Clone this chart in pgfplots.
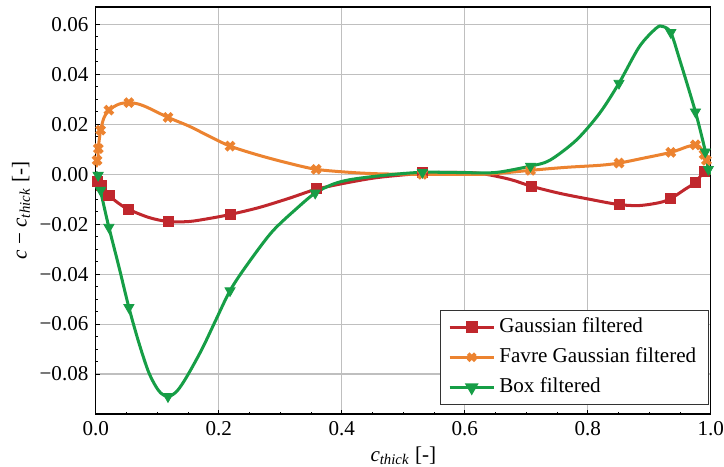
\documentclass[border=0pt]{standalone}
\usepackage{fontspec}
\setmainfont{Liberation Serif}
\usepackage{pgfplots}
\pgfplotsset{compat=1.18}

\definecolor{cred}{RGB}{192,39,45}
\definecolor{corange}{RGB}{236,131,48}
\definecolor{cgreen}{RGB}{22,158,70}

\pgfdeclareplotmark{Xfill}{%
  \pgftransformrotate{45}%
  \pgfpathmoveto{\pgfqpoint{0.36\pgfplotmarksize}{\pgfplotmarksize}}%
  \pgfpathlineto{\pgfqpoint{0.36\pgfplotmarksize}{0.36\pgfplotmarksize}}%
  \pgfpathlineto{\pgfqpoint{\pgfplotmarksize}{0.36\pgfplotmarksize}}%
  \pgfpathlineto{\pgfqpoint{\pgfplotmarksize}{-0.36\pgfplotmarksize}}%
  \pgfpathlineto{\pgfqpoint{0.36\pgfplotmarksize}{-0.36\pgfplotmarksize}}%
  \pgfpathlineto{\pgfqpoint{0.36\pgfplotmarksize}{-\pgfplotmarksize}}%
  \pgfpathlineto{\pgfqpoint{-0.36\pgfplotmarksize}{-\pgfplotmarksize}}%
  \pgfpathlineto{\pgfqpoint{-0.36\pgfplotmarksize}{-0.36\pgfplotmarksize}}%
  \pgfpathlineto{\pgfqpoint{-\pgfplotmarksize}{-0.36\pgfplotmarksize}}%
  \pgfpathlineto{\pgfqpoint{-\pgfplotmarksize}{0.36\pgfplotmarksize}}%
  \pgfpathlineto{\pgfqpoint{-0.36\pgfplotmarksize}{0.36\pgfplotmarksize}}%
  \pgfpathlineto{\pgfqpoint{-0.36\pgfplotmarksize}{\pgfplotmarksize}}%
  \pgfpathclose
  \pgfusepathqfill
}

\pgfplotstableread{
x y
0.0000 -0.0008
0.0024 -0.0028
0.0077 -0.0044
0.0212 -0.0084
0.0375 -0.0117
0.0537 -0.0141
0.0863 -0.0173
0.1173 -0.0189
0.1515 -0.0189
0.1840 -0.0177
0.2182 -0.0161
0.2655 -0.0133
0.3143 -0.0096
0.3583 -0.0060
0.4120 -0.0032
0.4610 -0.0012
0.5310 0.0004
0.5750 0.0008
0.6240 0.0004
0.6730 -0.0020
0.7085 -0.0048
0.7540 -0.0076
0.8030 -0.0100
0.8500 -0.0121
0.8840 -0.0125
0.9170 -0.0113
0.9350 -0.0097
0.9580 -0.0060
0.9750 -0.0032
0.9890 0.0012
0.9950 0.0024
1.0000 0.0008
}\gaussline

\pgfplotstableread{
x y
0.0030 -0.0028
0.0095 -0.0045
0.0212 -0.0084
0.0537 -0.0141
0.1173 -0.0189
0.2182 -0.0161
0.3583 -0.0058
0.5310 0.0006
0.7085 -0.0048
0.8507 -0.0121
0.9350 -0.0098
0.9750 -0.0031
0.9890 0.0012
}\gaussmarks

\pgfplotstableread{
x y
0.0000 0.0030
0.0016 0.0036
0.0037 0.0056
0.0040 0.0105
0.0065 0.0157
0.0077 0.0177
0.0130 0.0225
0.0212 0.0257
0.0375 0.0281
0.0537 0.0287
0.0700 0.0281
0.0863 0.0265
0.1173 0.0228
0.1515 0.0193
0.1840 0.0153
0.2182 0.0113
0.2655 0.0076
0.3143 0.0044
0.3583 0.0020
0.4120 0.0008
0.4610 0.0002
0.5310 0.0000
0.6240 0.0000
0.6560 0.0004
0.7068 0.0016
0.7650 0.0028
0.8190 0.0036
0.8507 0.0045
0.8890 0.0064
0.9350 0.0088
0.9610 0.0110
0.9750 0.0118
0.9820 0.0110
0.9890 0.0080
0.9930 0.0056
0.9970 0.0016
1.0000 0.0000
}\favreline

\pgfplotstableread{
x y
0.0020 0.0056
0.0040 0.0103
0.0077 0.0177
0.0212 0.0257
0.0537 0.0287
0.1173 0.0228
0.2182 0.0113
0.3583 0.0020
0.5310 0.0000
0.7068 0.0016
0.8507 0.0045
0.9350 0.0088
0.9750 0.0118
0.9890 0.0080
0.9930 0.0056
}\favremarks

\pgfplotstableread{
x y
0.0000 0.0008
0.0037 -0.0004
0.0077 -0.0064
0.0130 -0.0125
0.0212 -0.0212
0.0375 -0.0370
0.0537 -0.0533
0.0700 -0.0675
0.0863 -0.0795
0.1026 -0.0868
0.1173 -0.0890
0.1320 -0.0868
0.1480 -0.0810
0.1726 -0.0700
0.1954 -0.0582
0.2182 -0.0466
0.2443 -0.0368
0.2866 -0.0230
0.3306 -0.0128
0.3567 -0.0075
0.3850 -0.0040
0.4120 -0.0022
0.4610 -0.0006
0.5310 0.0008
0.6240 0.0006
0.6560 0.0009
0.7068 0.0033
0.7380 0.0056
0.7813 0.0137
0.8190 0.0244
0.8507 0.0365
0.8840 0.0512
0.9115 0.0586
0.9218 0.0592
0.9349 0.0568
0.9495 0.0458
0.9750 0.0250
0.9913 0.0090
0.9950 0.0036
1.0000 0.0000
}\boxline

\pgfplotstableread{
x y
0.0037 -0.0004
0.0077 -0.0064
0.0212 -0.0212
0.0537 -0.0533
0.1173 -0.0890
0.2182 -0.0466
0.3567 -0.0075
0.5310 0.0008
0.7068 0.0033
0.8507 0.0365
0.9349 0.0568
0.9750 0.0250
0.9910 0.0090
0.9960 0.0020
}\boxmarks

\begin{document}
\fontsize{10.5}{12}\selectfont
\begin{tikzpicture}
\begin{axis}[
  scale only axis,
  width=306pt, height=202.5pt,
  xmin=0, xmax=1, ymin=-0.096, ymax=0.067,
  scaled x ticks=false, scaled y ticks=false,
  xtick={0,0.2,0.4,0.6,0.8,1},
  xticklabels={0.0,0.2,0.4,0.6,0.8,1.0},
  ytick={-0.08,-0.06,-0.04,-0.02,0,0.02,0.04,0.06},
  yticklabels={−0.08,−0.06,−0.04,−0.02,0.00,0.02,0.04,0.06},
  xticklabel style={inner xsep=0pt},
  minor x tick num=3, minor y tick num=3,
  tick align=inside,
  xtick pos=bottom, ytick pos=left,
  major tick length=2pt, minor tick length=1.1pt,
  tick style={black, line width=0.5pt},
  grid=major,
  major grid style={black!25, line width=0.6pt},
  axis line style={line width=0.6pt},
  xlabel={\textit{c}\textsubscript{\textit{thick}} [-]},
  ylabel={\textit{c}\hspace{0.25em}−\hspace{0.25em}\textit{c}\textsubscript{\textit{thick}} [-]},
  xlabel style={inner ysep=1pt, yshift=-0.8pt},
  ylabel style={inner ysep=1pt},
  legend cell align=left,
  legend style={at={(1,0)}, anchor=south east, xshift=-1pt, yshift=4.5pt,
    draw=black!80, line width=0.5pt, fill=white,
    inner xsep=4pt, inner ysep=2pt, row sep=2pt,
    nodes={inner xsep=2pt, inner ysep=1.5pt, text height=7.5pt, text depth=2.5pt},
    font=\fontsize{10.5}{12}\selectfont},
  legend image code/.code={%
    \draw[mark repeat=2, mark phase=2] plot coordinates {(0pt,0pt) (11pt,0pt) (22pt,0pt)};},
]
\addplot[cred, line width=1.5pt, smooth, forget plot] table {\gaussline};
\addplot[cred, only marks, mark=square*, mark size=2.5pt, forget plot] table {\gaussmarks};
\addplot[corange, line width=1.5pt, smooth, forget plot] table {\favreline};
\addplot[corange, only marks, mark=Xfill, mark size=2.8pt, forget plot] table {\favremarks};
\addplot[cgreen, line width=1.5pt, smooth, forget plot] table {\boxline};
\addplot[cgreen, only marks, mark=triangle*, mark size=2.9pt, mark options={rotate=180}, forget plot] table {\boxmarks};

\addlegendimage{cred, line width=1.5pt, mark=square*, mark size=2.2pt}
\addlegendentry{Gaussian filtered}
\addlegendimage{corange, line width=1.5pt, mark=Xfill, mark size=2.5pt}
\addlegendentry{Favre Gaussian filtered}
\addlegendimage{cgreen, line width=1.5pt, mark=triangle*, mark size=2.5pt, mark options={rotate=180}}
\addlegendentry{Box filtered}
\end{axis}
\path ([yshift=3.5pt]current axis.north);
\path ([xshift=-5pt]current axis.outer west);
\end{tikzpicture}
\end{document}
